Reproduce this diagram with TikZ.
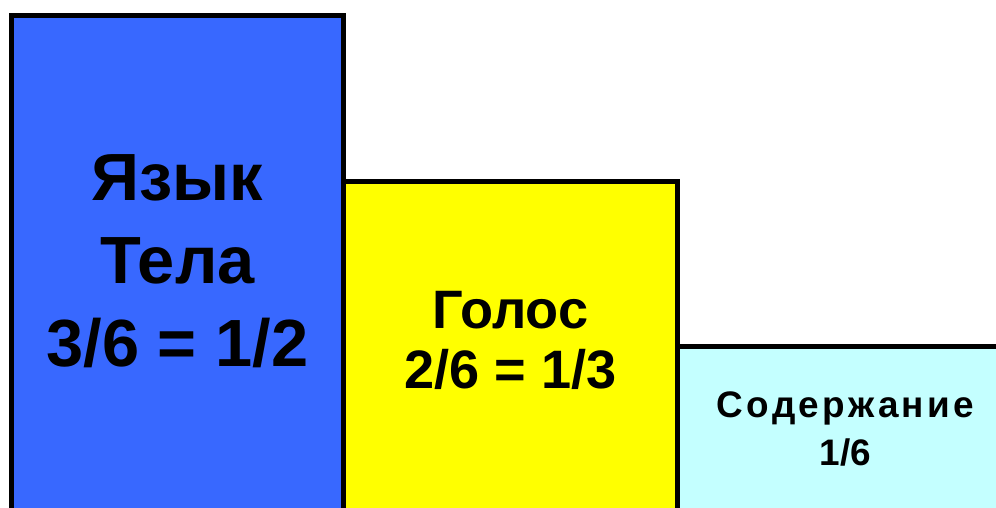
\documentclass[tikz,border=0pt]{standalone}
\usepackage{fontspec}
\setmainfont{Liberation Sans}
\newfontfamily\spacedfont[LetterSpace=9]{Liberation Sans}
\definecolor{barblue}{RGB}{56,104,255}
\definecolor{baryellow}{RGB}{255,255,0}
\definecolor{barcyan}{RGB}{196,255,255}
\tikzset{bar/.style={draw=black, line width=0.05cm, anchor=south west, outer sep=0pt, inner sep=0pt},
         share/.style={align=center, inner sep=0pt}}

\begin{document}
\begin{tikzpicture}
    \useasboundingbox (0,0) rectangle (9.96,5.07);
    \clip (0,0) rectangle (9.96,5.07);

    % bars
    \node[bar, fill=barblue, minimum width=3.31cm, minimum height=4.965cm] (body) at (0.12,-0.05) {};
    \node[bar, fill=baryellow, minimum width=3.345cm, minimum height=3.31cm] (voice) at (3.43,-0.05) {};
    \node[bar, fill=barcyan, minimum width=3.3cm, minimum height=1.66cm] (content) at (6.775,-0.05) {};

    % labels
    \node[share, font=\fontsize{19}{23.6}\selectfont\bfseries, yshift=0.03cm] (bodytext) at (body.center)
          {Язык\\Тела\\3/6 = 1/2};
    \node[share, font=\fontsize{15.4}{17.2}\selectfont\bfseries, yshift=0.06cm] (voicetext) at (voice.center)
          {Голос\\2/6 = 1/3};
    \node[share, font=\fontsize{10.5}{13.9}\selectfont\bfseries, xshift=0.03cm] (contenttext) at (content.center)
          {{\spacedfont Содержание}\\1/6};
\end{tikzpicture}
\end{document}
